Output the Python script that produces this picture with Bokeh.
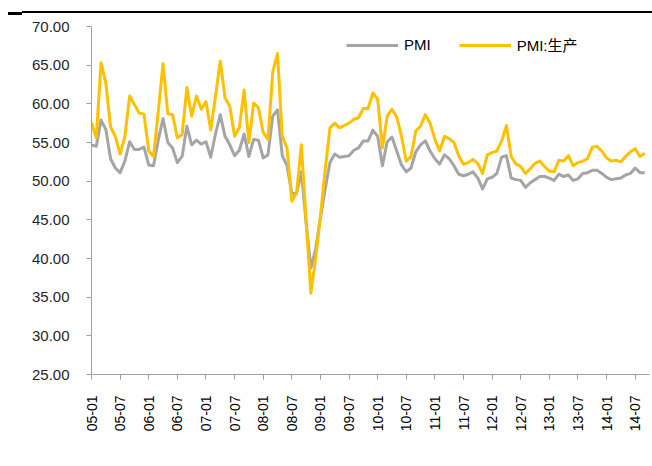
from bokeh.plotting import figure
from bokeh.models import (Range1d, FixedTicker, Legend, LegendItem, Div, ColumnDataSource)
from bokeh.layouts import column
from bokeh.embed import file_html
from bokeh.resources import INLINE
import math

# ---------------- data ----------------
years = list(range(2005, 2015))
months = [f"{y % 100:02d}-{m:02d}" for y in years for m in range(1, 13)][:117]  # 05-01 .. 14-09

pmi = [
    54.7, 54.5, 57.9, 56.7, 52.9, 51.7, 51.1, 52.6, 55.1, 54.1, 54.1, 54.4,   # 2005
    52.1, 52.0, 55.3, 58.1, 55.0, 54.3, 52.4, 53.2, 57.1, 54.7, 55.3, 54.8,   # 2006
    55.1, 53.1, 56.1, 58.6, 55.8, 54.7, 53.3, 54.0, 56.1, 53.2, 55.4, 55.3,   # 2007
    53.0, 53.4, 58.4, 59.2, 53.3, 52.0, 48.4, 48.4, 51.2, 44.6, 38.8, 41.2,   # 2008
    45.3, 49.0, 52.4, 53.5, 53.1, 53.2, 53.3, 54.0, 54.3, 55.2, 55.2, 56.6,   # 2009
    55.8, 52.0, 55.1, 55.7, 53.9, 52.1, 51.2, 51.7, 53.8, 54.7, 55.2, 53.9,   # 2010
    52.9, 52.2, 53.4, 52.9, 52.0, 50.9, 50.7, 50.9, 51.2, 50.4, 49.0, 50.3,   # 2011
    50.5, 51.0, 53.1, 53.3, 50.4, 50.2, 50.1, 49.2, 49.8, 50.2, 50.6, 50.6,   # 2012
    50.4, 50.1, 50.9, 50.6, 50.8, 50.1, 50.3, 51.0, 51.1, 51.4, 51.4, 51.0,   # 2013
    50.5, 50.2, 50.3, 50.4, 50.8, 51.0, 51.7, 51.1, 51.1,                     # 2014
]

pmi_production = [
    57.6, 55.6, 65.3, 62.7, 57.0, 55.8, 53.5, 55.8, 61.0, 59.9, 58.8, 58.7,   # 2005
    53.9, 53.2, 59.0, 65.2, 58.7, 58.6, 55.6, 56.0, 62.1, 58.4, 61.0, 59.3,   # 2006
    60.3, 56.6, 61.0, 65.5, 60.8, 59.7, 55.8, 56.9, 61.8, 55.0, 60.1, 59.5,   # 2007
    56.3, 55.4, 64.1, 66.5, 55.8, 54.3, 47.4, 48.5, 54.7, 44.9, 35.5, 40.0,   # 2008
    45.5, 51.5, 56.9, 57.5, 56.9, 57.2, 57.5, 58.0, 58.2, 59.4, 59.4, 61.4,   # 2009
    60.6, 54.3, 58.4, 59.3, 58.3, 55.8, 52.6, 53.2, 56.5, 57.1, 58.6, 57.5,   # 2010
    55.4, 53.9, 55.8, 55.5, 55.0, 53.3, 52.2, 52.4, 52.8, 52.3, 51.0, 53.4,   # 2011
    53.7, 53.9, 55.2, 57.2, 53.2, 52.2, 51.9, 51.0, 51.6, 52.3, 52.6, 51.9,   # 2012
    51.3, 51.2, 52.7, 52.6, 53.3, 52.0, 52.4, 52.6, 52.9, 54.4, 54.5, 53.9,   # 2013
    53.0, 52.6, 52.7, 52.5, 53.2, 53.8, 54.2, 53.2, 53.6,                     # 2014
]

series_names = ["PMI", "PMI:生产"]
tick_labels = [m for m in months if m.endswith("-01") or m.endswith("-07")]
y_ticks = [25, 30, 35, 40, 45, 50, 55, 60, 65, 70]

# ---------------- header rule ----------------
TOTAL_W = 652
HEAD_H = 8
header = Div(width=TOTAL_W, height=HEAD_H, styles={"overflow": "visible"},
             text=('<div style="position:relative;width:652px;height:8px;margin:0;padding:0;overflow:visible">'
                   '<div style="position:absolute;left:17px;top:2px;width:635px;height:2px;background:#000"></div>'
                   '<div style="position:absolute;left:3px;top:3px;width:14px;height:3px;background:#000"></div>'
                   '</div>'))

# ---------------- figure ----------------
idx = list(range(len(months)))
src = ColumnDataSource(dict(x=idx, month=months, pmi=pmi, prod=pmi_production))

W, H = TOTAL_W, 452
TOP = 8
p = figure(width=W, height=H, output_backend="svg", toolbar_location=None,
           x_range=Range1d(0, 117), y_range=Range1d(25, 70),
           min_border_left=91, min_border_right=3,
           min_border_top=TOP, min_border_bottom=H - TOP - 348)
p.outline_line_color = None
p.grid.visible = False
p.background_fill_color = "white"

FONT = "'Liberation Sans', 'Noto Sans CJK SC', sans-serif"
AXIS_COLOR = "#a0a0a0"

r1 = p.line("x", "pmi", source=src, line_color="#a5a5a5", line_width=3, line_join="round")
r2 = p.line("x", "prod", source=src, line_color="#ffc000", line_width=3, line_join="round")

# x axis
xa = p.xaxis[0]
tick_pos = [months.index(t) for t in tick_labels]
xa.ticker = FixedTicker(ticks=tick_pos)
xa.major_label_overrides = {i: t for i, t in zip(tick_pos, tick_labels)}
xa.major_label_orientation = math.pi / 2
xa.major_label_text_font = FONT
xa.major_label_text_font_size = "14px"
xa.major_label_text_color = "#000000"
xa.major_label_standoff = 16
xa.axis_line_color = AXIS_COLOR
xa.major_tick_line_color = AXIS_COLOR
xa.major_tick_out = 5
xa.major_tick_in = 0
xa.minor_tick_line_color = None

# y axis
ya = p.yaxis[0]
ya.ticker = FixedTicker(ticks=y_ticks)
ya.major_label_overrides = {v: f"{v:.2f}" for v in y_ticks}
ya.major_label_text_font = FONT
ya.major_label_text_font_size = "15px"
ya.major_label_text_color = "#262626"
ya.major_label_standoff = 17
ya.axis_line_color = AXIS_COLOR
ya.major_tick_line_color = AXIS_COLOR
ya.major_tick_out = 5
ya.major_tick_in = 0
ya.minor_tick_line_color = None

# legend
legend = Legend(items=[LegendItem(label=series_names[0], renderers=[r1]),
                       LegendItem(label=series_names[1], renderers=[r2])],
                orientation="horizontal", location=(255, 319),
                glyph_width=52, glyph_height=20, label_height=20,
                label_standoff=6, spacing=28, padding=0, margin=0,
                border_line_color=None, background_fill_alpha=0,
                label_text_font=FONT, label_text_font_size="15px",
                label_text_color="#000000")
p.add_layout(legend)

layout = column(header, p, spacing=0)
open("out.html", "w").write(file_html(layout, INLINE))
